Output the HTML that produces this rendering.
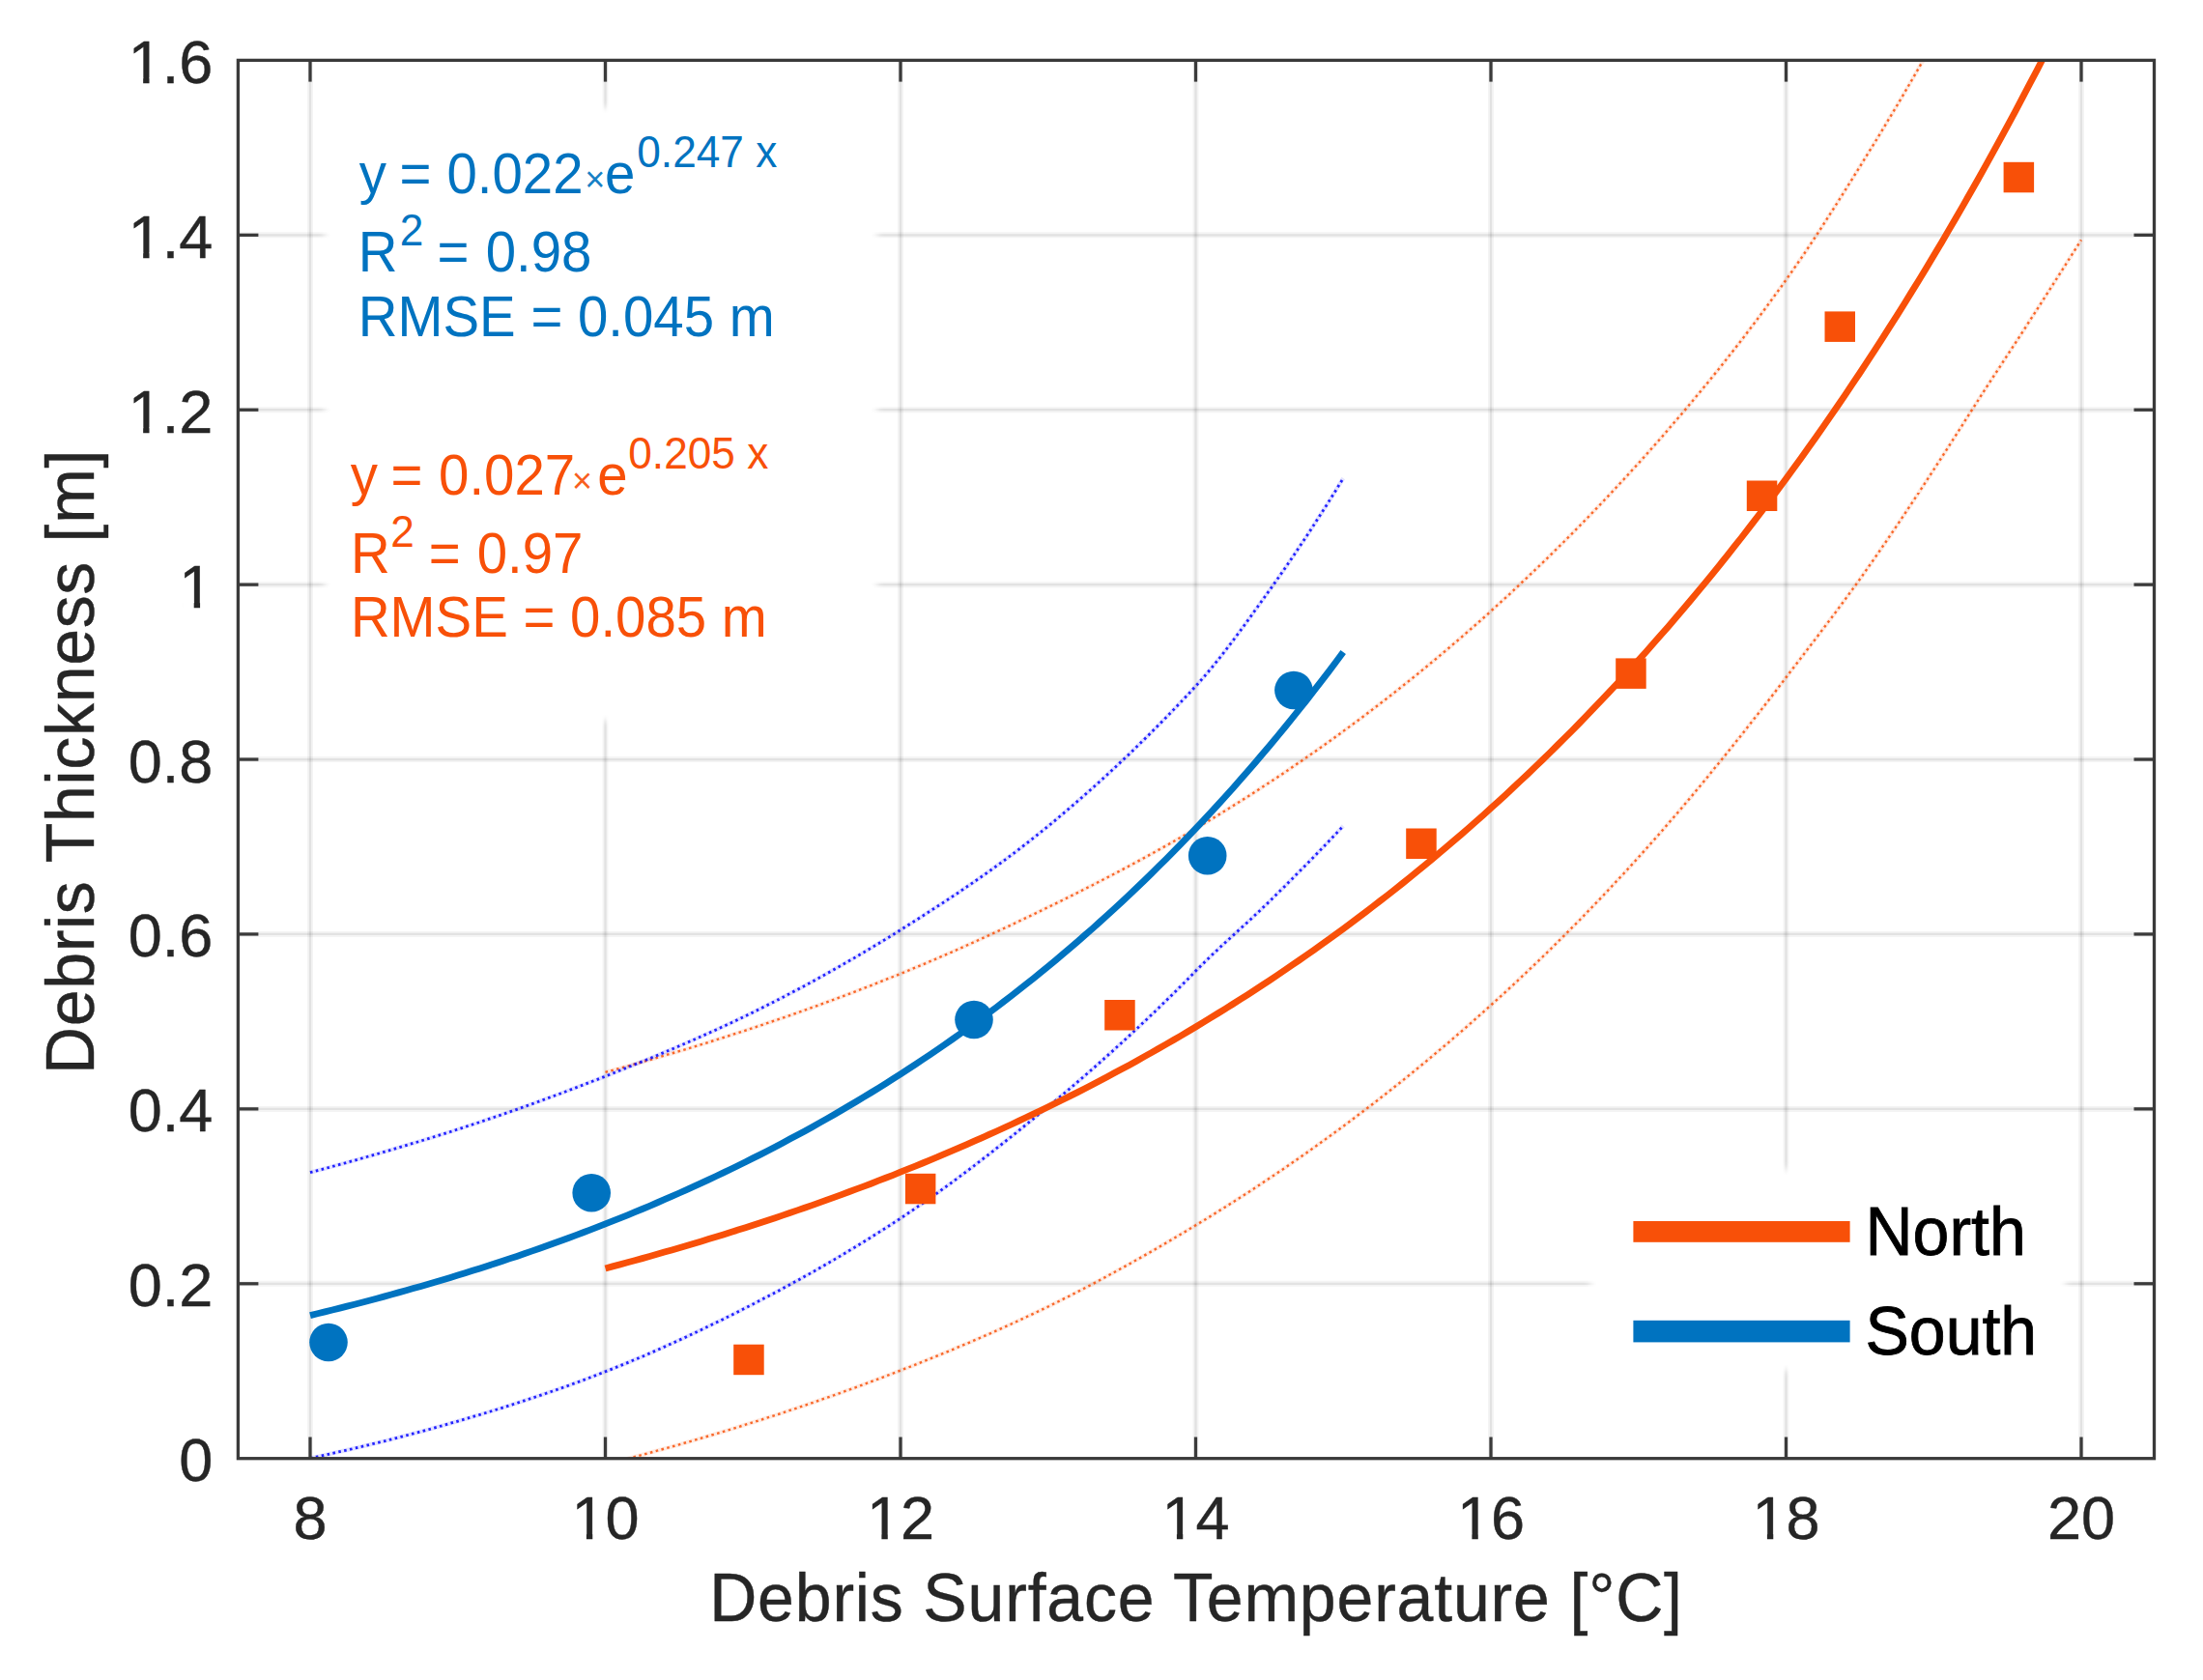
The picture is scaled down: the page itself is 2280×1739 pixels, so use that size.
<!DOCTYPE html>
<html lang="en">
<head>
<meta charset="utf-8">
<title>Debris Thickness vs Debris Surface Temperature</title>
<style>
html, body { margin: 0; padding: 0; background: #ffffff; }
body { width: 2280px; height: 1739px; overflow: hidden; }
svg { display: block; }
</style>
</head>
<body>
<svg width="2280" height="1739" viewBox="0 0 2280 1739" font-family='"Liberation Sans", sans-serif'>
<rect x="0" y="0" width="2280" height="1739" fill="#ffffff"/>
<g stroke="#262626" stroke-opacity="0.05" stroke-width="6" fill="none"><line x1="321.00" y1="62.4" x2="321.00" y2="1509.7"/><line x1="626.50" y1="62.4" x2="626.50" y2="1509.7"/><line x1="932.00" y1="62.4" x2="932.00" y2="1509.7"/><line x1="1237.50" y1="62.4" x2="1237.50" y2="1509.7"/><line x1="1543.00" y1="62.4" x2="1543.00" y2="1509.7"/><line x1="1848.50" y1="62.4" x2="1848.50" y2="1509.7"/><line x1="2154.00" y1="62.4" x2="2154.00" y2="1509.7"/><line x1="246.4" y1="1328.79" x2="2229.5" y2="1328.79"/><line x1="246.4" y1="1147.88" x2="2229.5" y2="1147.88"/><line x1="246.4" y1="966.96" x2="2229.5" y2="966.96"/><line x1="246.4" y1="786.05" x2="2229.5" y2="786.05"/><line x1="246.4" y1="605.14" x2="2229.5" y2="605.14"/><line x1="246.4" y1="424.22" x2="2229.5" y2="424.22"/><line x1="246.4" y1="243.31" x2="2229.5" y2="243.31"/></g>
<g stroke="#262626" stroke-opacity="0.085" stroke-width="2.2" fill="none"><line x1="321.00" y1="62.4" x2="321.00" y2="1509.7"/><line x1="626.50" y1="62.4" x2="626.50" y2="1509.7"/><line x1="932.00" y1="62.4" x2="932.00" y2="1509.7"/><line x1="1237.50" y1="62.4" x2="1237.50" y2="1509.7"/><line x1="1543.00" y1="62.4" x2="1543.00" y2="1509.7"/><line x1="1848.50" y1="62.4" x2="1848.50" y2="1509.7"/><line x1="2154.00" y1="62.4" x2="2154.00" y2="1509.7"/><line x1="246.4" y1="1328.79" x2="2229.5" y2="1328.79"/><line x1="246.4" y1="1147.88" x2="2229.5" y2="1147.88"/><line x1="246.4" y1="966.96" x2="2229.5" y2="966.96"/><line x1="246.4" y1="786.05" x2="2229.5" y2="786.05"/><line x1="246.4" y1="605.14" x2="2229.5" y2="605.14"/><line x1="246.4" y1="424.22" x2="2229.5" y2="424.22"/><line x1="246.4" y1="243.31" x2="2229.5" y2="243.31"/></g>
<defs><clipPath id="axclip"><rect x="246.40" y="62.40" width="1983.10" height="1447.30"/></clipPath></defs>
<g clip-path="url(#axclip)" fill="none">
<path d="M626.5,1109.9 L634.1,1107.8 L641.8,1105.7 L649.4,1103.6 L657.0,1101.4 L664.7,1099.3 L672.3,1097.1 L680.0,1094.9 L687.6,1092.7 L695.2,1090.4 L702.9,1088.1 L710.5,1085.8 L718.1,1083.5 L725.8,1081.2 L733.4,1078.8 L741.1,1076.4 L748.7,1074.0 L756.3,1071.5 L764.0,1069.1 L771.6,1066.6 L779.2,1064.1 L786.9,1061.5 L794.5,1058.9 L802.2,1056.3 L809.8,1053.7 L817.4,1051.1 L825.1,1048.4 L832.7,1045.7 L840.4,1042.9 L848.0,1040.2 L855.6,1037.4 L863.3,1034.6 L870.9,1031.7 L878.5,1028.9 L886.2,1026.0 L893.8,1023.0 L901.5,1020.1 L909.1,1017.1 L916.7,1014.0 L924.4,1011.0 L932.0,1007.9 L939.6,1004.8 L947.3,1001.6 L954.9,998.4 L962.5,995.2 L970.2,991.9 L977.8,988.6 L985.5,985.3 L993.1,981.9 L1000.7,978.5 L1008.4,975.1 L1016.0,971.6 L1023.6,968.1 L1031.3,964.6 L1038.9,961.0 L1046.6,957.4 L1054.2,953.8 L1061.8,950.2 L1069.5,946.5 L1077.1,942.8 L1084.8,939.1 L1092.4,935.4 L1100.0,931.6 L1107.7,927.8 L1115.3,924.0 L1122.9,920.1 L1130.6,916.3 L1138.2,912.3 L1145.8,908.4 L1153.5,904.4 L1161.1,900.4 L1168.8,896.3 L1176.4,892.2 L1184.0,888.1 L1191.7,883.9 L1199.3,879.6 L1207.0,875.3 L1214.6,871.0 L1222.2,866.6 L1229.9,862.2 L1237.5,857.7 L1245.1,853.1 L1252.8,848.5 L1260.4,843.9 L1268.0,839.2 L1275.7,834.4 L1283.3,829.6 L1291.0,824.8 L1298.6,819.9 L1306.2,814.9 L1313.9,809.9 L1321.5,804.9 L1329.2,799.8 L1336.8,794.6 L1344.4,789.4 L1352.1,784.1 L1359.7,778.8 L1367.3,773.4 L1375.0,768.0 L1382.6,762.5 L1390.2,756.9 L1397.9,751.3 L1405.5,745.7 L1413.2,739.9 L1420.8,734.1 L1428.4,728.3 L1436.1,722.4 L1443.7,716.4 L1451.4,710.3 L1459.0,704.2 L1466.6,698.1 L1474.3,691.8 L1481.9,685.5 L1489.5,679.2 L1497.2,672.7 L1504.8,666.2 L1512.5,659.6 L1520.1,653.0 L1527.7,646.3 L1535.4,639.5 L1543.0,632.6 L1550.6,625.7 L1558.3,618.7 L1565.9,611.6 L1573.5,604.4 L1581.2,597.2 L1588.8,589.9 L1596.5,582.5 L1604.1,575.1 L1611.7,567.6 L1619.4,560.0 L1627.0,552.3 L1634.7,544.5 L1642.3,536.7 L1649.9,528.8 L1657.6,520.7 L1665.2,512.7 L1672.8,504.5 L1680.5,496.2 L1688.1,487.9 L1695.8,479.5 L1703.4,471.0 L1711.0,462.4 L1718.7,453.7 L1726.3,444.9 L1733.9,436.0 L1741.6,427.1 L1749.2,418.0 L1756.8,408.9 L1764.5,399.6 L1772.1,390.3 L1779.8,380.8 L1787.4,371.2 L1795.0,361.5 L1802.7,351.6 L1810.3,341.6 L1818.0,331.5 L1825.6,321.2 L1833.2,310.8 L1840.9,300.3 L1848.5,289.7 L1856.1,278.8 L1863.8,267.7 L1871.4,256.4 L1879.1,244.8 L1886.7,233.1 L1894.3,221.2 L1902.0,209.2 L1909.6,197.0 L1917.2,184.8 L1924.9,172.5 L1932.5,160.1 L1940.2,147.7 L1947.8,135.1 L1955.4,122.4 L1963.1,109.6 L1970.7,96.6 L1978.3,83.5 L1986.0,70.2 L1993.6,56.7 L2001.2,43.1 L2008.9,29.2 L2016.5,15.2 L2024.2,1.0 L2031.8,-13.4 L2039.4,-28.1 L2047.1,-43.1 L2054.7,-58.5 L2062.3,-74.3 L2070.0,-90.5 L2077.6,-107.0 L2085.3,-123.8 L2092.9,-140.7 L2100.5,-157.8 L2108.2,-175.3 L2115.8,-192.9 L2123.4,-210.9 L2131.1,-229.1 L2138.7,-247.6 L2146.4,-266.4 L2154.0,-285.4" stroke="#F85008" stroke-width="4.4" stroke-opacity="0.11"/>
<path d="M626.5,1109.9 L634.1,1107.8 L641.8,1105.7 L649.4,1103.6 L657.0,1101.4 L664.7,1099.3 L672.3,1097.1 L680.0,1094.9 L687.6,1092.7 L695.2,1090.4 L702.9,1088.1 L710.5,1085.8 L718.1,1083.5 L725.8,1081.2 L733.4,1078.8 L741.1,1076.4 L748.7,1074.0 L756.3,1071.5 L764.0,1069.1 L771.6,1066.6 L779.2,1064.1 L786.9,1061.5 L794.5,1058.9 L802.2,1056.3 L809.8,1053.7 L817.4,1051.1 L825.1,1048.4 L832.7,1045.7 L840.4,1042.9 L848.0,1040.2 L855.6,1037.4 L863.3,1034.6 L870.9,1031.7 L878.5,1028.9 L886.2,1026.0 L893.8,1023.0 L901.5,1020.1 L909.1,1017.1 L916.7,1014.0 L924.4,1011.0 L932.0,1007.9 L939.6,1004.8 L947.3,1001.6 L954.9,998.4 L962.5,995.2 L970.2,991.9 L977.8,988.6 L985.5,985.3 L993.1,981.9 L1000.7,978.5 L1008.4,975.1 L1016.0,971.6 L1023.6,968.1 L1031.3,964.6 L1038.9,961.0 L1046.6,957.4 L1054.2,953.8 L1061.8,950.2 L1069.5,946.5 L1077.1,942.8 L1084.8,939.1 L1092.4,935.4 L1100.0,931.6 L1107.7,927.8 L1115.3,924.0 L1122.9,920.1 L1130.6,916.3 L1138.2,912.3 L1145.8,908.4 L1153.5,904.4 L1161.1,900.4 L1168.8,896.3 L1176.4,892.2 L1184.0,888.1 L1191.7,883.9 L1199.3,879.6 L1207.0,875.3 L1214.6,871.0 L1222.2,866.6 L1229.9,862.2 L1237.5,857.7 L1245.1,853.1 L1252.8,848.5 L1260.4,843.9 L1268.0,839.2 L1275.7,834.4 L1283.3,829.6 L1291.0,824.8 L1298.6,819.9 L1306.2,814.9 L1313.9,809.9 L1321.5,804.9 L1329.2,799.8 L1336.8,794.6 L1344.4,789.4 L1352.1,784.1 L1359.7,778.8 L1367.3,773.4 L1375.0,768.0 L1382.6,762.5 L1390.2,756.9 L1397.9,751.3 L1405.5,745.7 L1413.2,739.9 L1420.8,734.1 L1428.4,728.3 L1436.1,722.4 L1443.7,716.4 L1451.4,710.3 L1459.0,704.2 L1466.6,698.1 L1474.3,691.8 L1481.9,685.5 L1489.5,679.2 L1497.2,672.7 L1504.8,666.2 L1512.5,659.6 L1520.1,653.0 L1527.7,646.3 L1535.4,639.5 L1543.0,632.6 L1550.6,625.7 L1558.3,618.7 L1565.9,611.6 L1573.5,604.4 L1581.2,597.2 L1588.8,589.9 L1596.5,582.5 L1604.1,575.1 L1611.7,567.6 L1619.4,560.0 L1627.0,552.3 L1634.7,544.5 L1642.3,536.7 L1649.9,528.8 L1657.6,520.7 L1665.2,512.7 L1672.8,504.5 L1680.5,496.2 L1688.1,487.9 L1695.8,479.5 L1703.4,471.0 L1711.0,462.4 L1718.7,453.7 L1726.3,444.9 L1733.9,436.0 L1741.6,427.1 L1749.2,418.0 L1756.8,408.9 L1764.5,399.6 L1772.1,390.3 L1779.8,380.8 L1787.4,371.2 L1795.0,361.5 L1802.7,351.6 L1810.3,341.6 L1818.0,331.5 L1825.6,321.2 L1833.2,310.8 L1840.9,300.3 L1848.5,289.7 L1856.1,278.8 L1863.8,267.7 L1871.4,256.4 L1879.1,244.8 L1886.7,233.1 L1894.3,221.2 L1902.0,209.2 L1909.6,197.0 L1917.2,184.8 L1924.9,172.5 L1932.5,160.1 L1940.2,147.7 L1947.8,135.1 L1955.4,122.4 L1963.1,109.6 L1970.7,96.6 L1978.3,83.5 L1986.0,70.2 L1993.6,56.7 L2001.2,43.1 L2008.9,29.2 L2016.5,15.2 L2024.2,1.0 L2031.8,-13.4 L2039.4,-28.1 L2047.1,-43.1 L2054.7,-58.5 L2062.3,-74.3 L2070.0,-90.5 L2077.6,-107.0 L2085.3,-123.8 L2092.9,-140.7 L2100.5,-157.8 L2108.2,-175.3 L2115.8,-192.9 L2123.4,-210.9 L2131.1,-229.1 L2138.7,-247.6 L2146.4,-266.4 L2154.0,-285.4" stroke="#F85008" stroke-width="2.4" stroke-dasharray="2.6 3.4" stroke-opacity="0.85"/>
<path d="M626.5,1516.0 L634.1,1514.1 L641.8,1512.1 L649.4,1510.0 L657.0,1508.0 L664.7,1505.9 L672.3,1503.9 L680.0,1501.7 L687.6,1499.6 L695.2,1497.5 L702.9,1495.3 L710.5,1493.1 L718.1,1490.9 L725.8,1488.7 L733.4,1486.4 L741.1,1484.1 L748.7,1481.8 L756.3,1479.5 L764.0,1477.1 L771.6,1474.7 L779.2,1472.3 L786.9,1469.9 L794.5,1467.4 L802.2,1465.0 L809.8,1462.5 L817.4,1459.9 L825.1,1457.4 L832.7,1454.8 L840.4,1452.2 L848.0,1449.5 L855.6,1446.8 L863.3,1444.2 L870.9,1441.4 L878.5,1438.7 L886.2,1435.9 L893.8,1433.1 L901.5,1430.2 L909.1,1427.4 L916.7,1424.5 L924.4,1421.5 L932.0,1418.6 L939.6,1415.6 L947.3,1412.6 L954.9,1409.5 L962.5,1406.5 L970.2,1403.4 L977.8,1400.3 L985.5,1397.1 L993.1,1393.9 L1000.7,1390.7 L1008.4,1387.4 L1016.0,1384.1 L1023.6,1380.8 L1031.3,1377.4 L1038.9,1374.0 L1046.6,1370.5 L1054.2,1367.0 L1061.8,1363.4 L1069.5,1359.8 L1077.1,1356.2 L1084.8,1352.5 L1092.4,1348.7 L1100.0,1344.9 L1107.7,1341.1 L1115.3,1337.1 L1122.9,1333.2 L1130.6,1329.2 L1138.2,1325.1 L1145.8,1321.0 L1153.5,1316.8 L1161.1,1312.6 L1168.8,1308.4 L1176.4,1304.1 L1184.0,1299.8 L1191.7,1295.4 L1199.3,1291.0 L1207.0,1286.5 L1214.6,1282.0 L1222.2,1277.5 L1229.9,1272.9 L1237.5,1268.3 L1245.1,1263.7 L1252.8,1259.0 L1260.4,1254.2 L1268.0,1249.4 L1275.7,1244.6 L1283.3,1239.7 L1291.0,1234.8 L1298.6,1229.8 L1306.2,1224.7 L1313.9,1219.6 L1321.5,1214.5 L1329.2,1209.3 L1336.8,1204.0 L1344.4,1198.7 L1352.1,1193.4 L1359.7,1188.0 L1367.3,1182.5 L1375.0,1177.0 L1382.6,1171.4 L1390.2,1165.8 L1397.9,1160.1 L1405.5,1154.3 L1413.2,1148.5 L1420.8,1142.7 L1428.4,1136.8 L1436.1,1130.8 L1443.7,1124.7 L1451.4,1118.7 L1459.0,1112.5 L1466.6,1106.3 L1474.3,1100.0 L1481.9,1093.6 L1489.5,1087.2 L1497.2,1080.8 L1504.8,1074.2 L1512.5,1067.6 L1520.1,1061.0 L1527.7,1054.2 L1535.4,1047.4 L1543.0,1040.6 L1550.6,1033.6 L1558.3,1026.6 L1565.9,1019.6 L1573.5,1012.4 L1581.2,1005.2 L1588.8,997.9 L1596.5,990.5 L1604.1,983.1 L1611.7,975.5 L1619.4,967.9 L1627.0,960.2 L1634.7,952.5 L1642.3,944.6 L1649.9,936.7 L1657.6,928.7 L1665.2,920.6 L1672.8,912.4 L1680.5,904.2 L1688.1,895.9 L1695.8,887.4 L1703.4,878.9 L1711.0,870.3 L1718.7,861.6 L1726.3,852.8 L1733.9,844.0 L1741.6,835.0 L1749.2,826.0 L1756.8,816.8 L1764.5,807.6 L1772.1,798.2 L1779.8,788.8 L1787.4,779.4 L1795.0,769.9 L1802.7,760.3 L1810.3,750.6 L1818.0,740.9 L1825.6,731.1 L1833.2,721.3 L1840.9,711.3 L1848.5,701.2 L1856.1,691.2 L1863.8,681.2 L1871.4,671.2 L1879.1,661.2 L1886.7,651.1 L1894.3,641.0 L1902.0,630.8 L1909.6,620.5 L1917.2,610.1 L1924.9,599.5 L1932.5,588.7 L1940.2,577.7 L1947.8,566.7 L1955.4,555.5 L1963.1,544.2 L1970.7,532.8 L1978.3,521.3 L1986.0,509.7 L1993.6,498.0 L2001.2,486.3 L2008.9,474.5 L2016.5,462.6 L2024.2,450.6 L2031.8,438.6 L2039.4,426.6 L2047.1,414.6 L2054.7,402.7 L2062.3,390.9 L2070.0,379.3 L2077.6,367.6 L2085.3,355.9 L2092.9,344.2 L2100.5,332.3 L2108.2,320.4 L2115.8,308.5 L2123.4,296.5 L2131.1,284.5 L2138.7,272.5 L2146.4,260.4 L2154.0,248.3" stroke="#F85008" stroke-width="4.4" stroke-opacity="0.11"/>
<path d="M626.5,1516.0 L634.1,1514.1 L641.8,1512.1 L649.4,1510.0 L657.0,1508.0 L664.7,1505.9 L672.3,1503.9 L680.0,1501.7 L687.6,1499.6 L695.2,1497.5 L702.9,1495.3 L710.5,1493.1 L718.1,1490.9 L725.8,1488.7 L733.4,1486.4 L741.1,1484.1 L748.7,1481.8 L756.3,1479.5 L764.0,1477.1 L771.6,1474.7 L779.2,1472.3 L786.9,1469.9 L794.5,1467.4 L802.2,1465.0 L809.8,1462.5 L817.4,1459.9 L825.1,1457.4 L832.7,1454.8 L840.4,1452.2 L848.0,1449.5 L855.6,1446.8 L863.3,1444.2 L870.9,1441.4 L878.5,1438.7 L886.2,1435.9 L893.8,1433.1 L901.5,1430.2 L909.1,1427.4 L916.7,1424.5 L924.4,1421.5 L932.0,1418.6 L939.6,1415.6 L947.3,1412.6 L954.9,1409.5 L962.5,1406.5 L970.2,1403.4 L977.8,1400.3 L985.5,1397.1 L993.1,1393.9 L1000.7,1390.7 L1008.4,1387.4 L1016.0,1384.1 L1023.6,1380.8 L1031.3,1377.4 L1038.9,1374.0 L1046.6,1370.5 L1054.2,1367.0 L1061.8,1363.4 L1069.5,1359.8 L1077.1,1356.2 L1084.8,1352.5 L1092.4,1348.7 L1100.0,1344.9 L1107.7,1341.1 L1115.3,1337.1 L1122.9,1333.2 L1130.6,1329.2 L1138.2,1325.1 L1145.8,1321.0 L1153.5,1316.8 L1161.1,1312.6 L1168.8,1308.4 L1176.4,1304.1 L1184.0,1299.8 L1191.7,1295.4 L1199.3,1291.0 L1207.0,1286.5 L1214.6,1282.0 L1222.2,1277.5 L1229.9,1272.9 L1237.5,1268.3 L1245.1,1263.7 L1252.8,1259.0 L1260.4,1254.2 L1268.0,1249.4 L1275.7,1244.6 L1283.3,1239.7 L1291.0,1234.8 L1298.6,1229.8 L1306.2,1224.7 L1313.9,1219.6 L1321.5,1214.5 L1329.2,1209.3 L1336.8,1204.0 L1344.4,1198.7 L1352.1,1193.4 L1359.7,1188.0 L1367.3,1182.5 L1375.0,1177.0 L1382.6,1171.4 L1390.2,1165.8 L1397.9,1160.1 L1405.5,1154.3 L1413.2,1148.5 L1420.8,1142.7 L1428.4,1136.8 L1436.1,1130.8 L1443.7,1124.7 L1451.4,1118.7 L1459.0,1112.5 L1466.6,1106.3 L1474.3,1100.0 L1481.9,1093.6 L1489.5,1087.2 L1497.2,1080.8 L1504.8,1074.2 L1512.5,1067.6 L1520.1,1061.0 L1527.7,1054.2 L1535.4,1047.4 L1543.0,1040.6 L1550.6,1033.6 L1558.3,1026.6 L1565.9,1019.6 L1573.5,1012.4 L1581.2,1005.2 L1588.8,997.9 L1596.5,990.5 L1604.1,983.1 L1611.7,975.5 L1619.4,967.9 L1627.0,960.2 L1634.7,952.5 L1642.3,944.6 L1649.9,936.7 L1657.6,928.7 L1665.2,920.6 L1672.8,912.4 L1680.5,904.2 L1688.1,895.9 L1695.8,887.4 L1703.4,878.9 L1711.0,870.3 L1718.7,861.6 L1726.3,852.8 L1733.9,844.0 L1741.6,835.0 L1749.2,826.0 L1756.8,816.8 L1764.5,807.6 L1772.1,798.2 L1779.8,788.8 L1787.4,779.4 L1795.0,769.9 L1802.7,760.3 L1810.3,750.6 L1818.0,740.9 L1825.6,731.1 L1833.2,721.3 L1840.9,711.3 L1848.5,701.2 L1856.1,691.2 L1863.8,681.2 L1871.4,671.2 L1879.1,661.2 L1886.7,651.1 L1894.3,641.0 L1902.0,630.8 L1909.6,620.5 L1917.2,610.1 L1924.9,599.5 L1932.5,588.7 L1940.2,577.7 L1947.8,566.7 L1955.4,555.5 L1963.1,544.2 L1970.7,532.8 L1978.3,521.3 L1986.0,509.7 L1993.6,498.0 L2001.2,486.3 L2008.9,474.5 L2016.5,462.6 L2024.2,450.6 L2031.8,438.6 L2039.4,426.6 L2047.1,414.6 L2054.7,402.7 L2062.3,390.9 L2070.0,379.3 L2077.6,367.6 L2085.3,355.9 L2092.9,344.2 L2100.5,332.3 L2108.2,320.4 L2115.8,308.5 L2123.4,296.5 L2131.1,284.5 L2138.7,272.5 L2146.4,260.4 L2154.0,248.3" stroke="#F85008" stroke-width="2.4" stroke-dasharray="2.6 3.4" stroke-opacity="0.85"/>
<path d="M321.0,1213.7 L328.6,1211.6 L336.3,1209.6 L343.9,1207.5 L351.5,1205.4 L359.2,1203.3 L366.8,1201.2 L374.5,1199.0 L382.1,1196.8 L389.7,1194.7 L397.4,1192.4 L405.0,1190.2 L412.6,1187.9 L420.3,1185.6 L427.9,1183.3 L435.6,1181.0 L443.2,1178.7 L450.8,1176.3 L458.5,1173.9 L466.1,1171.5 L473.8,1169.0 L481.4,1166.5 L489.0,1164.0 L496.7,1161.5 L504.3,1158.9 L511.9,1156.3 L519.6,1153.7 L527.2,1151.0 L534.9,1148.4 L542.5,1145.6 L550.1,1142.9 L557.8,1140.1 L565.4,1137.3 L573.0,1134.5 L580.7,1131.7 L588.3,1128.8 L596.0,1125.9 L603.6,1123.0 L611.2,1120.0 L618.9,1117.1 L626.5,1114.1 L634.1,1111.1 L641.8,1108.0 L649.4,1105.0 L657.0,1101.9 L664.7,1098.8 L672.3,1095.7 L680.0,1092.5 L687.6,1089.3 L695.2,1086.1 L702.9,1082.8 L710.5,1079.5 L718.1,1076.2 L725.8,1072.8 L733.4,1069.4 L741.1,1065.9 L748.7,1062.4 L756.3,1058.9 L764.0,1055.3 L771.6,1051.6 L779.2,1047.9 L786.9,1044.1 L794.5,1040.3 L802.2,1036.4 L809.8,1032.5 L817.4,1028.5 L825.1,1024.5 L832.7,1020.4 L840.4,1016.3 L848.0,1012.1 L855.6,1007.8 L863.3,1003.5 L870.9,999.2 L878.5,994.8 L886.2,990.4 L893.8,985.9 L901.5,981.3 L909.1,976.7 L916.7,972.1 L924.4,967.4 L932.0,962.6 L939.6,957.8 L947.3,953.0 L954.9,948.1 L962.5,943.2 L970.2,938.2 L977.8,933.3 L985.5,928.2 L993.1,923.1 L1000.7,917.9 L1008.4,912.7 L1016.0,907.3 L1023.7,901.9 L1031.3,896.4 L1038.9,890.9 L1046.6,885.2 L1054.2,879.4 L1061.8,873.5 L1069.5,867.5 L1077.1,861.4 L1084.8,855.2 L1092.4,848.9 L1100.0,842.4 L1107.7,835.9 L1115.3,829.3 L1122.9,822.6 L1130.6,815.8 L1138.2,808.9 L1145.8,802.0 L1153.5,794.9 L1161.1,787.7 L1168.8,780.4 L1176.4,773.0 L1184.0,765.6 L1191.7,758.0 L1199.3,750.3 L1207.0,742.5 L1214.6,734.6 L1222.2,726.6 L1229.9,718.5 L1237.5,710.2 L1245.1,701.7 L1252.8,692.7 L1260.4,683.4 L1268.0,673.6 L1275.7,663.6 L1283.3,653.4 L1291.0,642.9 L1298.6,632.3 L1306.2,621.7 L1313.9,611.0 L1321.5,600.2 L1329.2,589.2 L1336.8,578.1 L1344.4,566.7 L1352.1,555.2 L1359.7,543.5 L1367.3,531.7 L1375.0,519.6 L1382.6,507.4 L1390.2,495.0" stroke="#0000FF" stroke-width="4.4" stroke-opacity="0.11"/>
<path d="M321.0,1213.7 L328.6,1211.6 L336.3,1209.6 L343.9,1207.5 L351.5,1205.4 L359.2,1203.3 L366.8,1201.2 L374.5,1199.0 L382.1,1196.8 L389.7,1194.7 L397.4,1192.4 L405.0,1190.2 L412.6,1187.9 L420.3,1185.6 L427.9,1183.3 L435.6,1181.0 L443.2,1178.7 L450.8,1176.3 L458.5,1173.9 L466.1,1171.5 L473.8,1169.0 L481.4,1166.5 L489.0,1164.0 L496.7,1161.5 L504.3,1158.9 L511.9,1156.3 L519.6,1153.7 L527.2,1151.0 L534.9,1148.4 L542.5,1145.6 L550.1,1142.9 L557.8,1140.1 L565.4,1137.3 L573.0,1134.5 L580.7,1131.7 L588.3,1128.8 L596.0,1125.9 L603.6,1123.0 L611.2,1120.0 L618.9,1117.1 L626.5,1114.1 L634.1,1111.1 L641.8,1108.0 L649.4,1105.0 L657.0,1101.9 L664.7,1098.8 L672.3,1095.7 L680.0,1092.5 L687.6,1089.3 L695.2,1086.1 L702.9,1082.8 L710.5,1079.5 L718.1,1076.2 L725.8,1072.8 L733.4,1069.4 L741.1,1065.9 L748.7,1062.4 L756.3,1058.9 L764.0,1055.3 L771.6,1051.6 L779.2,1047.9 L786.9,1044.1 L794.5,1040.3 L802.2,1036.4 L809.8,1032.5 L817.4,1028.5 L825.1,1024.5 L832.7,1020.4 L840.4,1016.3 L848.0,1012.1 L855.6,1007.8 L863.3,1003.5 L870.9,999.2 L878.5,994.8 L886.2,990.4 L893.8,985.9 L901.5,981.3 L909.1,976.7 L916.7,972.1 L924.4,967.4 L932.0,962.6 L939.6,957.8 L947.3,953.0 L954.9,948.1 L962.5,943.2 L970.2,938.2 L977.8,933.3 L985.5,928.2 L993.1,923.1 L1000.7,917.9 L1008.4,912.7 L1016.0,907.3 L1023.7,901.9 L1031.3,896.4 L1038.9,890.9 L1046.6,885.2 L1054.2,879.4 L1061.8,873.5 L1069.5,867.5 L1077.1,861.4 L1084.8,855.2 L1092.4,848.9 L1100.0,842.4 L1107.7,835.9 L1115.3,829.3 L1122.9,822.6 L1130.6,815.8 L1138.2,808.9 L1145.8,802.0 L1153.5,794.9 L1161.1,787.7 L1168.8,780.4 L1176.4,773.0 L1184.0,765.6 L1191.7,758.0 L1199.3,750.3 L1207.0,742.5 L1214.6,734.6 L1222.2,726.6 L1229.9,718.5 L1237.5,710.2 L1245.1,701.7 L1252.8,692.7 L1260.4,683.4 L1268.0,673.6 L1275.7,663.6 L1283.3,653.4 L1291.0,642.9 L1298.6,632.3 L1306.2,621.7 L1313.9,611.0 L1321.5,600.2 L1329.2,589.2 L1336.8,578.1 L1344.4,566.7 L1352.1,555.2 L1359.7,543.5 L1367.3,531.7 L1375.0,519.6 L1382.6,507.4 L1390.2,495.0" stroke="#0000FF" stroke-width="2.8" stroke-dasharray="2.6 3.4" stroke-opacity="0.85"/>
<path d="M321.0,1509.5 L328.6,1507.8 L336.3,1506.1 L343.9,1504.4 L351.5,1502.7 L359.2,1501.0 L366.8,1499.2 L374.5,1497.4 L382.1,1495.5 L389.7,1493.7 L397.4,1491.8 L405.0,1489.9 L412.6,1487.9 L420.3,1485.9 L427.9,1483.9 L435.6,1481.9 L443.2,1479.8 L450.8,1477.7 L458.5,1475.5 L466.1,1473.3 L473.8,1471.1 L481.4,1468.9 L489.0,1466.6 L496.7,1464.3 L504.3,1462.0 L511.9,1459.7 L519.6,1457.3 L527.2,1454.9 L534.9,1452.4 L542.5,1449.9 L550.1,1447.4 L557.8,1444.8 L565.4,1442.2 L573.0,1439.6 L580.7,1436.9 L588.3,1434.2 L596.0,1431.4 L603.6,1428.6 L611.2,1425.7 L618.9,1422.8 L626.5,1419.8 L634.1,1416.8 L641.8,1413.7 L649.4,1410.6 L657.0,1407.4 L664.7,1404.2 L672.3,1400.9 L680.0,1397.5 L687.6,1394.1 L695.2,1390.7 L702.9,1387.2 L710.5,1383.7 L718.1,1380.1 L725.8,1376.5 L733.4,1372.8 L741.1,1369.1 L748.7,1365.4 L756.3,1361.6 L764.0,1357.8 L771.6,1353.9 L779.2,1350.0 L786.9,1346.0 L794.5,1342.0 L802.2,1338.0 L809.8,1333.9 L817.4,1329.8 L825.1,1325.6 L832.7,1321.3 L840.4,1317.1 L848.0,1312.7 L855.6,1308.3 L863.3,1303.9 L870.9,1299.4 L878.5,1294.8 L886.2,1290.2 L893.8,1285.5 L901.5,1280.7 L909.1,1275.9 L916.7,1271.1 L924.4,1266.1 L932.0,1261.1 L939.6,1256.0 L947.3,1250.8 L954.9,1245.6 L962.5,1240.2 L970.2,1234.8 L977.8,1229.3 L985.5,1223.7 L993.1,1218.0 L1000.7,1212.3 L1008.4,1206.5 L1016.0,1200.6 L1023.7,1194.7 L1031.3,1188.7 L1038.9,1182.7 L1046.6,1176.6 L1054.2,1170.5 L1061.8,1164.3 L1069.5,1158.1 L1077.1,1151.8 L1084.8,1145.6 L1092.4,1139.2 L1100.0,1132.9 L1107.7,1126.4 L1115.3,1119.9 L1122.9,1113.3 L1130.6,1106.6 L1138.2,1099.9 L1145.8,1093.0 L1153.5,1086.1 L1161.1,1079.2 L1168.8,1072.1 L1176.4,1065.0 L1184.0,1057.8 L1191.7,1050.5 L1199.3,1043.2 L1207.0,1035.7 L1214.6,1028.2 L1222.2,1020.6 L1229.9,1012.9 L1237.5,1005.1 L1245.1,997.5 L1252.8,990.0 L1260.4,982.8 L1268.0,975.7 L1275.7,968.7 L1283.3,961.7 L1291.0,954.7 L1298.6,947.6 L1306.2,940.4 L1313.9,933.0 L1321.5,925.4 L1329.2,917.9 L1336.8,910.2 L1344.4,902.5 L1352.1,894.8 L1359.7,887.0 L1367.3,879.1 L1375.0,871.1 L1382.6,863.1 L1390.2,855.0" stroke="#0000FF" stroke-width="4.4" stroke-opacity="0.11"/>
<path d="M321.0,1509.5 L328.6,1507.8 L336.3,1506.1 L343.9,1504.4 L351.5,1502.7 L359.2,1501.0 L366.8,1499.2 L374.5,1497.4 L382.1,1495.5 L389.7,1493.7 L397.4,1491.8 L405.0,1489.9 L412.6,1487.9 L420.3,1485.9 L427.9,1483.9 L435.6,1481.9 L443.2,1479.8 L450.8,1477.7 L458.5,1475.5 L466.1,1473.3 L473.8,1471.1 L481.4,1468.9 L489.0,1466.6 L496.7,1464.3 L504.3,1462.0 L511.9,1459.7 L519.6,1457.3 L527.2,1454.9 L534.9,1452.4 L542.5,1449.9 L550.1,1447.4 L557.8,1444.8 L565.4,1442.2 L573.0,1439.6 L580.7,1436.9 L588.3,1434.2 L596.0,1431.4 L603.6,1428.6 L611.2,1425.7 L618.9,1422.8 L626.5,1419.8 L634.1,1416.8 L641.8,1413.7 L649.4,1410.6 L657.0,1407.4 L664.7,1404.2 L672.3,1400.9 L680.0,1397.5 L687.6,1394.1 L695.2,1390.7 L702.9,1387.2 L710.5,1383.7 L718.1,1380.1 L725.8,1376.5 L733.4,1372.8 L741.1,1369.1 L748.7,1365.4 L756.3,1361.6 L764.0,1357.8 L771.6,1353.9 L779.2,1350.0 L786.9,1346.0 L794.5,1342.0 L802.2,1338.0 L809.8,1333.9 L817.4,1329.8 L825.1,1325.6 L832.7,1321.3 L840.4,1317.1 L848.0,1312.7 L855.6,1308.3 L863.3,1303.9 L870.9,1299.4 L878.5,1294.8 L886.2,1290.2 L893.8,1285.5 L901.5,1280.7 L909.1,1275.9 L916.7,1271.1 L924.4,1266.1 L932.0,1261.1 L939.6,1256.0 L947.3,1250.8 L954.9,1245.6 L962.5,1240.2 L970.2,1234.8 L977.8,1229.3 L985.5,1223.7 L993.1,1218.0 L1000.7,1212.3 L1008.4,1206.5 L1016.0,1200.6 L1023.7,1194.7 L1031.3,1188.7 L1038.9,1182.7 L1046.6,1176.6 L1054.2,1170.5 L1061.8,1164.3 L1069.5,1158.1 L1077.1,1151.8 L1084.8,1145.6 L1092.4,1139.2 L1100.0,1132.9 L1107.7,1126.4 L1115.3,1119.9 L1122.9,1113.3 L1130.6,1106.6 L1138.2,1099.9 L1145.8,1093.0 L1153.5,1086.1 L1161.1,1079.2 L1168.8,1072.1 L1176.4,1065.0 L1184.0,1057.8 L1191.7,1050.5 L1199.3,1043.2 L1207.0,1035.7 L1214.6,1028.2 L1222.2,1020.6 L1229.9,1012.9 L1237.5,1005.1 L1245.1,997.5 L1252.8,990.0 L1260.4,982.8 L1268.0,975.7 L1275.7,968.7 L1283.3,961.7 L1291.0,954.7 L1298.6,947.6 L1306.2,940.4 L1313.9,933.0 L1321.5,925.4 L1329.2,917.9 L1336.8,910.2 L1344.4,902.5 L1352.1,894.8 L1359.7,887.0 L1367.3,879.1 L1375.0,871.1 L1382.6,863.1 L1390.2,855.0" stroke="#0000FF" stroke-width="2.8" stroke-dasharray="2.6 3.4" stroke-opacity="0.85"/>
<path d="M626.5,1313.0 L634.1,1310.9 L641.8,1308.9 L649.4,1306.8 L657.0,1304.7 L664.7,1302.6 L672.3,1300.5 L680.0,1298.3 L687.6,1296.1 L695.2,1293.9 L702.9,1291.7 L710.5,1289.5 L718.1,1287.2 L725.8,1284.9 L733.4,1282.6 L741.1,1280.3 L748.7,1277.9 L756.3,1275.5 L764.0,1273.1 L771.6,1270.7 L779.2,1268.2 L786.9,1265.7 L794.5,1263.2 L802.2,1260.7 L809.8,1258.1 L817.4,1255.5 L825.1,1252.9 L832.7,1250.2 L840.4,1247.6 L848.0,1244.9 L855.6,1242.1 L863.3,1239.4 L870.9,1236.6 L878.5,1233.8 L886.2,1230.9 L893.8,1228.1 L901.5,1225.2 L909.1,1222.2 L916.7,1219.3 L924.4,1216.3 L932.0,1213.2 L939.6,1210.2 L947.3,1207.1 L954.9,1204.0 L962.5,1200.8 L970.2,1197.7 L977.8,1194.4 L985.5,1191.2 L993.1,1187.9 L1000.7,1184.6 L1008.4,1181.2 L1016.0,1177.9 L1023.6,1174.4 L1031.3,1171.0 L1038.9,1167.5 L1046.6,1164.0 L1054.2,1160.4 L1061.8,1156.8 L1069.5,1153.2 L1077.1,1149.5 L1084.8,1145.8 L1092.4,1142.0 L1100.0,1138.3 L1107.7,1134.4 L1115.3,1130.6 L1122.9,1126.7 L1130.6,1122.7 L1138.2,1118.7 L1145.8,1114.7 L1153.5,1110.6 L1161.1,1106.5 L1168.8,1102.4 L1176.4,1098.2 L1184.0,1093.9 L1191.7,1089.6 L1199.3,1085.3 L1207.0,1080.9 L1214.6,1076.5 L1222.2,1072.1 L1229.9,1067.5 L1237.5,1063.0 L1245.1,1058.4 L1252.8,1053.7 L1260.4,1049.0 L1268.0,1044.3 L1275.7,1039.5 L1283.3,1034.7 L1291.0,1029.8 L1298.6,1024.8 L1306.2,1019.8 L1313.9,1014.8 L1321.5,1009.7 L1329.2,1004.5 L1336.8,999.3 L1344.4,994.1 L1352.1,988.8 L1359.7,983.4 L1367.3,978.0 L1375.0,972.5 L1382.6,966.9 L1390.2,961.4 L1397.9,955.7 L1405.5,950.0 L1413.2,944.2 L1420.8,938.4 L1428.4,932.5 L1436.1,926.6 L1443.7,920.6 L1451.4,914.5 L1459.0,908.4 L1466.6,902.2 L1474.3,895.9 L1481.9,889.6 L1489.5,883.2 L1497.2,876.7 L1504.8,870.2 L1512.5,863.6 L1520.1,857.0 L1527.7,850.3 L1535.4,843.5 L1543.0,836.6 L1550.6,829.7 L1558.3,822.7 L1565.9,815.6 L1573.5,808.4 L1581.2,801.2 L1588.8,793.9 L1596.5,786.5 L1604.1,779.1 L1611.7,771.5 L1619.4,763.9 L1627.0,756.3 L1634.7,748.5 L1642.3,740.7 L1649.9,732.7 L1657.6,724.7 L1665.2,716.6 L1672.8,708.5 L1680.5,700.2 L1688.1,691.9 L1695.8,683.4 L1703.4,674.9 L1711.0,666.3 L1718.7,657.6 L1726.3,648.9 L1733.9,640.0 L1741.6,631.0 L1749.2,622.0 L1756.8,612.8 L1764.5,603.6 L1772.1,594.3 L1779.8,584.8 L1787.4,575.3 L1795.0,565.7 L1802.7,556.0 L1810.3,546.1 L1818.0,536.2 L1825.6,526.2 L1833.2,516.0 L1840.9,505.8 L1848.5,495.5 L1856.1,485.0 L1863.8,474.4 L1871.4,463.8 L1879.1,453.0 L1886.7,442.1 L1894.3,431.1 L1902.0,420.0 L1909.6,408.8 L1917.2,397.4 L1924.9,386.0 L1932.5,374.4 L1940.2,362.7 L1947.8,350.9 L1955.4,338.9 L1963.1,326.9 L1970.7,314.7 L1978.3,302.4 L1986.0,290.0 L1993.6,277.4 L2001.2,264.7 L2008.9,251.9 L2016.5,238.9 L2024.2,225.8 L2031.8,212.6 L2039.4,199.2 L2047.1,185.7 L2054.7,172.1 L2062.3,158.3 L2070.0,144.4 L2077.6,130.3 L2085.3,116.1 L2092.9,101.7 L2100.5,87.2 L2108.2,72.6 L2115.8,57.8 L2123.4,42.8 L2131.1,27.7 L2138.7,12.4 L2146.4,-3.0 L2154.0,-18.6" stroke="#F85008" stroke-width="6.8" stroke-linejoin="round"/>
<path d="M321.0,1361.6 L328.6,1359.7 L336.3,1357.9 L343.9,1356.0 L351.5,1354.1 L359.2,1352.1 L366.8,1350.2 L374.5,1348.2 L382.1,1346.2 L389.7,1344.2 L397.4,1342.1 L405.0,1340.0 L412.6,1337.9 L420.3,1335.8 L427.9,1333.6 L435.6,1331.4 L443.2,1329.2 L450.8,1327.0 L458.5,1324.7 L466.1,1322.4 L473.8,1320.1 L481.4,1317.7 L489.0,1315.3 L496.7,1312.9 L504.3,1310.5 L511.9,1308.0 L519.6,1305.5 L527.2,1302.9 L534.9,1300.4 L542.5,1297.8 L550.1,1295.1 L557.8,1292.5 L565.4,1289.8 L573.0,1287.0 L580.7,1284.3 L588.3,1281.5 L596.0,1278.6 L603.6,1275.8 L611.2,1272.9 L618.9,1269.9 L626.5,1266.9 L634.1,1263.9 L641.8,1260.9 L649.4,1257.8 L657.0,1254.6 L664.7,1251.5 L672.3,1248.3 L680.0,1245.0 L687.6,1241.7 L695.2,1238.4 L702.9,1235.0 L710.5,1231.6 L718.1,1228.2 L725.8,1224.7 L733.4,1221.1 L741.1,1217.5 L748.7,1213.9 L756.3,1210.2 L764.0,1206.5 L771.6,1202.7 L779.2,1198.9 L786.9,1195.1 L794.5,1191.2 L802.2,1187.2 L809.8,1183.2 L817.4,1179.1 L825.1,1175.0 L832.7,1170.9 L840.4,1166.7 L848.0,1162.4 L855.6,1158.1 L863.3,1153.7 L870.9,1149.3 L878.5,1144.8 L886.2,1140.3 L893.8,1135.7 L901.5,1131.0 L909.1,1126.3 L916.7,1121.6 L924.4,1116.7 L932.0,1111.9 L939.6,1106.9 L947.3,1101.9 L954.9,1096.8 L962.5,1091.7 L970.2,1086.5 L977.8,1081.3 L985.5,1075.9 L993.1,1070.5 L1000.7,1065.1 L1008.4,1059.6 L1016.0,1054.0 L1023.7,1048.3 L1031.3,1042.6 L1038.9,1036.8 L1046.6,1030.9 L1054.2,1024.9 L1061.8,1018.9 L1069.5,1012.8 L1077.1,1006.6 L1084.8,1000.4 L1092.4,994.1 L1100.0,987.7 L1107.7,981.2 L1115.3,974.6 L1122.9,967.9 L1130.6,961.2 L1138.2,954.4 L1145.8,947.5 L1153.5,940.5 L1161.1,933.4 L1168.8,926.3 L1176.4,919.0 L1184.0,911.7 L1191.7,904.3 L1199.3,896.7 L1207.0,889.1 L1214.6,881.4 L1222.2,873.6 L1229.9,865.7 L1237.5,857.7 L1245.1,849.6 L1252.8,841.4 L1260.4,833.1 L1268.0,824.7 L1275.7,816.2 L1283.3,807.5 L1291.0,798.8 L1298.6,790.0 L1306.2,781.0 L1313.9,772.0 L1321.5,762.8 L1329.2,753.5 L1336.8,744.1 L1344.4,734.6 L1352.1,725.0 L1359.7,715.2 L1367.3,705.4 L1375.0,695.4 L1382.6,685.3 L1390.2,675.0" stroke="#0073C0" stroke-width="6.8" stroke-linejoin="round"/>
</g>
<g fill="#F85008">
<rect x="759.2" y="1391.7" width="31.5" height="31.5"/>
<rect x="936.9" y="1214.8" width="31.5" height="31.5"/>
<rect x="1143.2" y="1035.0" width="31.5" height="31.5"/>
<rect x="1455.2" y="857.5" width="31.5" height="31.5"/>
<rect x="1672.2" y="681.4" width="31.5" height="31.5"/>
<rect x="1807.8" y="497.5" width="31.5" height="31.5"/>
<rect x="1888.5" y="322.4" width="31.5" height="31.5"/>
<rect x="2073.6" y="167.8" width="31.5" height="31.5"/>
</g>
<g fill="#0073C0">
<circle cx="340" cy="1389.5" r="19.8"/>
<circle cx="612.2" cy="1234.8" r="19.8"/>
<circle cx="1008" cy="1055.5" r="19.8"/>
<circle cx="1249.7" cy="885.7" r="19.8"/>
<circle cx="1338.9" cy="714.5" r="19.8"/>
</g>
<defs><filter id="soft" x="-5%" y="-5%" width="110%" height="110%"><feGaussianBlur stdDeviation="3.5"/></filter></defs>
<g filter="url(#soft)" fill="#ffffff">
<rect x="336" y="111" width="572" height="635"/>
<rect x="1646" y="1210" width="492" height="208.5"/>
</g>
<rect x="342" y="117" width="560" height="623" fill="#ffffff"/>
<rect x="1652" y="1216" width="480" height="196.5" fill="#ffffff"/>
<g stroke="#3a3a3a" stroke-width="3.3" fill="none">
<rect x="246.4" y="62.4" width="1983.10" height="1447.30"/>
<line x1="321.00" y1="1509.7" x2="321.00" y2="1487.5"/>
<line x1="321.00" y1="62.4" x2="321.00" y2="84.6"/>
<line x1="626.50" y1="1509.7" x2="626.50" y2="1487.5"/>
<line x1="626.50" y1="62.4" x2="626.50" y2="84.6"/>
<line x1="932.00" y1="1509.7" x2="932.00" y2="1487.5"/>
<line x1="932.00" y1="62.4" x2="932.00" y2="84.6"/>
<line x1="1237.50" y1="1509.7" x2="1237.50" y2="1487.5"/>
<line x1="1237.50" y1="62.4" x2="1237.50" y2="84.6"/>
<line x1="1543.00" y1="1509.7" x2="1543.00" y2="1487.5"/>
<line x1="1543.00" y1="62.4" x2="1543.00" y2="84.6"/>
<line x1="1848.50" y1="1509.7" x2="1848.50" y2="1487.5"/>
<line x1="1848.50" y1="62.4" x2="1848.50" y2="84.6"/>
<line x1="2154.00" y1="1509.7" x2="2154.00" y2="1487.5"/>
<line x1="2154.00" y1="62.4" x2="2154.00" y2="84.6"/>
<line x1="246.4" y1="1328.79" x2="267.4" y2="1328.79"/>
<line x1="2229.5" y1="1328.79" x2="2208.5" y2="1328.79"/>
<line x1="246.4" y1="1147.88" x2="267.4" y2="1147.88"/>
<line x1="2229.5" y1="1147.88" x2="2208.5" y2="1147.88"/>
<line x1="246.4" y1="966.96" x2="267.4" y2="966.96"/>
<line x1="2229.5" y1="966.96" x2="2208.5" y2="966.96"/>
<line x1="246.4" y1="786.05" x2="267.4" y2="786.05"/>
<line x1="2229.5" y1="786.05" x2="2208.5" y2="786.05"/>
<line x1="246.4" y1="605.14" x2="267.4" y2="605.14"/>
<line x1="2229.5" y1="605.14" x2="2208.5" y2="605.14"/>
<line x1="246.4" y1="424.22" x2="267.4" y2="424.22"/>
<line x1="2229.5" y1="424.22" x2="2208.5" y2="424.22"/>
<line x1="246.4" y1="243.31" x2="267.4" y2="243.31"/>
<line x1="2229.5" y1="243.31" x2="2208.5" y2="243.31"/>
</g>
<g fill="#262626" font-size="63" stroke="#262626" stroke-width="0.4">
<text transform="translate(321.00 1593.20) scale(1 1.0)" text-anchor="middle">8</text>
<text transform="translate(626.50 1593.20) scale(1 1.0)" text-anchor="middle">10</text>
<text transform="translate(932.00 1593.20) scale(1 1.0)" text-anchor="middle">12</text>
<text transform="translate(1237.50 1593.20) scale(1 1.0)" text-anchor="middle">14</text>
<text transform="translate(1543.00 1593.20) scale(1 1.0)" text-anchor="middle">16</text>
<text transform="translate(1848.50 1593.20) scale(1 1.0)" text-anchor="middle">18</text>
<text transform="translate(2154.00 1593.20) scale(1 1.0)" text-anchor="middle">20</text>
<text transform="translate(220.30 1533.20) scale(1 1.0)" text-anchor="end">0</text>
<text transform="translate(220.30 1352.29) scale(1 1.0)" text-anchor="end">0.2</text>
<text transform="translate(220.30 1171.38) scale(1 1.0)" text-anchor="end">0.4</text>
<text transform="translate(220.30 990.46) scale(1 1.0)" text-anchor="end">0.6</text>
<text transform="translate(220.30 809.55) scale(1 1.0)" text-anchor="end">0.8</text>
<text transform="translate(220.30 628.64) scale(1 1.0)" text-anchor="end">1</text>
<text transform="translate(220.30 447.72) scale(1 1.0)" text-anchor="end">1.2</text>
<text transform="translate(220.30 266.81) scale(1 1.0)" text-anchor="end">1.4</text>
<text transform="translate(220.30 85.90) scale(1 1.0)" text-anchor="end">1.6</text>
</g>
<g fill="#ffffff"><rect x="595.26" y="1587.79" width="11.64" height="7.31"/><rect x="613.27" y="1587.79" width="11.35" height="7.31"/><rect x="900.76" y="1587.79" width="11.64" height="7.31"/><rect x="918.77" y="1587.79" width="11.35" height="7.31"/><rect x="1206.26" y="1587.79" width="11.64" height="7.31"/><rect x="1224.27" y="1587.79" width="11.35" height="7.31"/><rect x="1511.76" y="1587.79" width="11.64" height="7.31"/><rect x="1529.77" y="1587.79" width="11.35" height="7.31"/><rect x="1817.26" y="1587.79" width="11.64" height="7.31"/><rect x="1835.27" y="1587.79" width="11.35" height="7.31"/><rect x="189.06" y="623.23" width="11.64" height="7.31"/><rect x="207.07" y="623.23" width="11.35" height="7.31"/><rect x="136.52" y="442.32" width="11.64" height="7.31"/><rect x="154.53" y="442.32" width="11.35" height="7.31"/><rect x="136.52" y="261.41" width="11.64" height="7.31"/><rect x="154.53" y="261.41" width="11.35" height="7.31"/><rect x="136.52" y="80.49" width="11.64" height="7.31"/><rect x="154.53" y="80.49" width="11.35" height="7.31"/></g>
<text transform="translate(1238.00 1677.50) scale(1 1.045)" font-size="68" fill="#262626" stroke="#262626" stroke-width="0.4" text-anchor="middle" letter-spacing="0.83">Debris Surface Temperature [°C]</text>
<text transform="translate(97.2 788.5) rotate(-90) scale(1 1.045)" font-size="68" fill="#262626" stroke="#262626" stroke-width="0.4" text-anchor="middle" letter-spacing="0.68">Debris Thickness [m]</text>
<g fill="#0073C0" font-size="56.4">
<text transform="translate(0 200) scale(1 1.045)"><tspan x="371.8" y="0">y</tspan> <tspan x="413.5" y="0">=</tspan> <tspan x="462.4" y="0">0.022</tspan><tspan x="615.8" y="-1.72" font-size="36" fill-opacity="0.92" text-anchor="middle">×</tspan><tspan x="626" y="0">e</tspan><tspan x="659.3" y="-26.03" font-size="44.2">0.247 x</tspan></text>
<text transform="translate(0 281.4) scale(1 1.045)"><tspan x="370.8" y="0">R</tspan><tspan x="413.7" y="-26.03" font-size="44.2">2</tspan> <tspan x="452.6" y="0">=</tspan> <tspan x="502.7" y="0">0.98</tspan></text>
<text transform="translate(370.80 348.00) scale(1 1.045)" >RMSE = 0.045 m</text>
</g>
<g fill="#F85008" font-size="56.4">
<text transform="translate(0 511.7) scale(1 1.045)"><tspan x="362.7" y="0">y</tspan> <tspan x="404.5" y="0">=</tspan> <tspan x="454.1" y="0">0.027</tspan><tspan x="602.6" y="-1.72" font-size="36" fill-opacity="0.92" text-anchor="middle">×</tspan><tspan x="618.2" y="0">e</tspan><tspan x="650.3" y="-26.03" font-size="44.2">0.205 x</tspan></text>
<text transform="translate(0 593) scale(1 1.045)"><tspan x="362.9" y="0">R</tspan><tspan x="404.3" y="-26.03" font-size="44.2">2</tspan> <tspan x="443.8" y="0">=</tspan> <tspan x="493.7" y="0">0.97</tspan></text>
<text transform="translate(362.90 659.20) scale(1 1.045)" >RMSE = 0.085 m</text>
</g>
<rect x="1690.4" y="1264" width="224.2" height="21.8" fill="#F85008"/>
<rect x="1690.4" y="1366.8" width="224.2" height="22.6" fill="#0073C0"/>
<text transform="translate(1930.50 1298.60) scale(1 1.045)" font-size="68" fill="#000" stroke="#000" stroke-width="0.8">North</text>
<text transform="translate(1930.50 1402.20) scale(1 1.045)" font-size="68" fill="#000" stroke="#000" stroke-width="0.8">South</text>
</svg>
</body>
</html>
